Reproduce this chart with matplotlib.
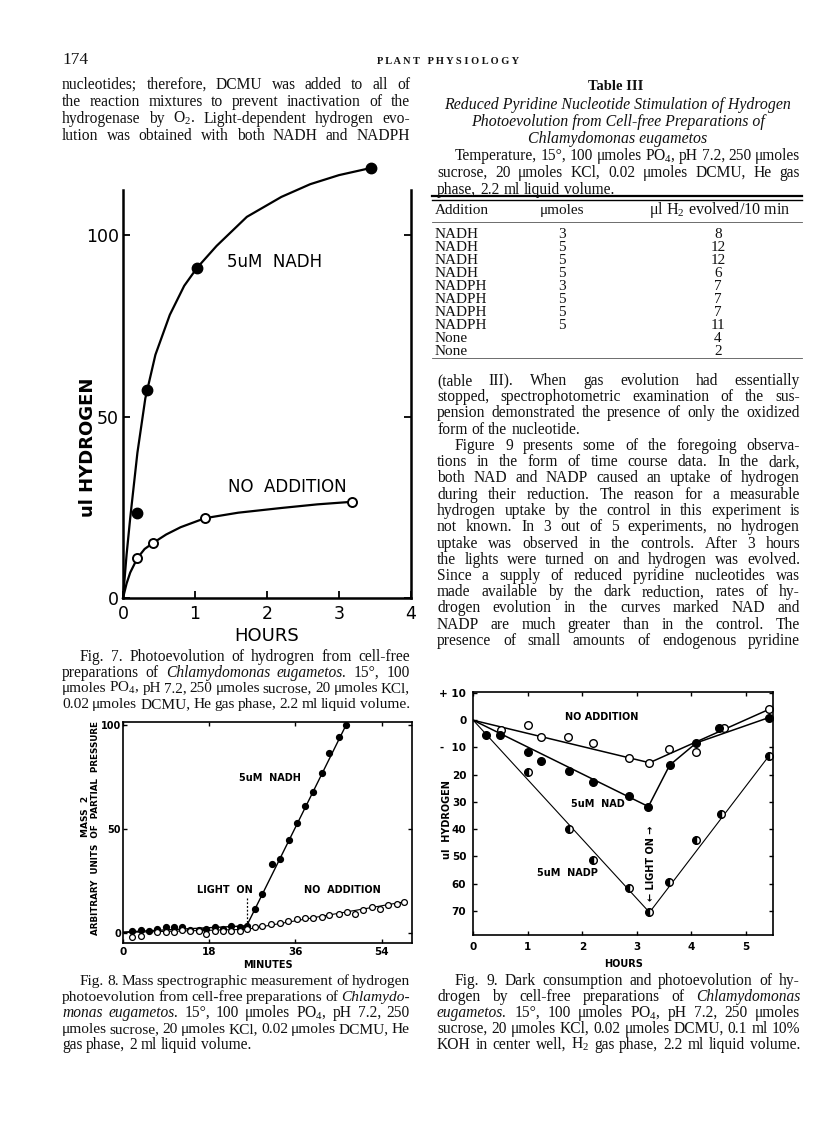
import matplotlib
matplotlib.use('Agg')
import matplotlib.pyplot as plt

plt.rcParams['mathtext.fontset'] = 'custom'
plt.rcParams['mathtext.rm'] = 'Liberation Serif'
plt.rcParams['mathtext.it'] = 'Liberation Serif:italic'

W, H = 816, 1121

# ---------------- data ----------------
# Fig 7
f7_nadh_t = [0.19, 0.33, 1.03, 3.45]
f7_nadh_v = [23.4, 57.3, 91.0, 118.5]
f7_none_t = [0.20, 0.42, 1.14, 3.18]
f7_none_v = [11.1, 15.2, 22.0, 26.5]
f7_nadh_curve_t = [0, 0.05, 0.1, 0.2, 0.31, 0.45, 0.65, 0.85, 1.03, 1.3, 1.72, 2.2, 2.6, 3.0, 3.45]
f7_nadh_curve_v = [0, 12, 22, 40, 55, 67, 78, 86, 91, 97, 105, 110.5, 114, 116.5, 118.5]
f7_none_curve_t = [0, 0.05, 0.1, 0.2, 0.3, 0.42, 0.6, 0.8, 1.14, 1.6, 2.2, 2.7, 3.18]
f7_none_curve_v = [0, 4, 7, 11, 13.5, 15.2, 17.5, 19.5, 22, 23.5, 24.8, 25.8, 26.5]

# Fig 8
f8_nadh_min = [1.9, 3.7, 5.4, 7.1, 8.9, 10.6, 12.3, 13.9, 15.8, 17.3, 19.1, 20.9, 22.6, 24.3, 25.8,
               27.5, 29.1, 31.1, 32.8, 34.7, 36.3, 38.0, 39.7, 41.5, 43.1, 45.0, 46.6]
f8_nadh_val = [1, 1.5, 1, 2, 3, 3, 3, 1.5, 1.5, 2, 3, 2, 3.5, 3, 3.5,
               11.4, 18.8, 33.4, 35.8, 44.5, 52.7, 61.0, 67.6, 77.1, 86.6, 94.2, 100]
f8_nadh_line_min = [0, 25.8, 46.6]
f8_nadh_line_val = [0.5, 3.5, 100]
f8_none_min = [1.9, 3.7, 7.1, 8.9, 10.6, 12.3, 13.9, 15.8, 17.3, 19.1, 20.9, 22.6, 24.3, 25.8,
               27.5, 29.1, 30.9, 32.8, 34.5, 36.4, 38.0, 39.7, 41.5, 43.1, 45.0, 46.7, 48.5,
               50.2, 52.0, 53.7, 55.4, 57.2, 58.7]
f8_none_val = [-2, -1.5, 0.5, 0.5, 0.5, 1.5, 1.2, 1.2, -0.3, 1, 1, 1, 1, 1.8,
               3, 3.5, 4.3, 5, 5.8, 6.6, 7.1, 7.4, 7.9, 8.7, 9.1, 9.9, 9.4,
               11, 12.3, 11.8, 13.4, 14.2, 15]
f8_none_line_min = [0, 25.8, 58.7]
f8_none_line_val = [0.3, 1.8, 15]

# Fig 9
f9_none_h = [0.51, 1.0, 1.25, 1.73, 2.19, 2.86, 3.23, 3.58, 4.09, 4.59, 5.42]
f9_none_v = [-3.7, -1.8, -6.1, -6.1, -8.5, -13.9, -15.6, -10.7, -11.6, -2.8, 4.0]
f9_none_line_h = [0, 3.23, 5.42]
f9_none_line_v = [0, -15.6, 4.0]
f9_nad_h = [0.24, 0.49, 1.0, 1.25, 1.76, 2.2, 2.86, 3.21, 3.6, 4.09, 4.51, 5.42]
f9_nad_v = [-5.5, -5.5, -11.6, -15.0, -18.5, -22.6, -27.8, -31.7, -16.5, -8.3, -2.8, 1.0]
f9_nad_line_h = [0, 3.21, 3.6, 4.09, 5.42]
f9_nad_line_v = [0, -31.7, -16.5, -8.3, 1.0]
f9_nadp_h = [1.01, 1.76, 2.19, 2.86, 3.23, 3.58, 4.09, 4.55, 5.42]
f9_nadp_v = [-19.1, -40.0, -51.5, -61.7, -70.6, -59.5, -44.0, -34.4, -13.1]
f9_nadp_line_h = [0, 3.23, 5.42]
f9_nadp_line_v = [0, -70.6, -13.1]

# Table III
tab_addition = ['NADH', 'NADH', 'NADH', 'NADH', 'NADPH', 'NADPH', 'NADPH', 'NADPH', 'None', 'None']
tab_umoles = ['3', '5', '5', '5', '3', '5', '5', '5', '', '']
tab_h2 = ['8', '12', '12', '6', '7', '7', '7', '11', '4', '2']

# ---------------- figure ----------------
fig = plt.figure(figsize=(W / 100, H / 100), dpi=100)
fig.patch.set_facecolor('white')
renderer = fig.canvas.get_renderer()


def fx(x):
    return x / W


def fy(y):
    return 1 - y / H


SERIF = ['Liberation Serif', 'DejaVu Serif']
BODY = 11.2
INK = '#111111'


def place_line(line, x0, x1, y, size=BODY, justify=True):
    toks = line.split()
    styles = []
    words = []
    for tok in toks:
        if tok.startswith('~'):
            styles.append('italic')
            words.append(tok[1:])
        else:
            styles.append('normal')
            words.append(tok)
    objs = [fig.text(0, fy(y), w, fontsize=size, family=SERIF, style=s,
                     va='baseline', ha='left', color=INK) for w, s in zip(words, styles)]

    def measure():
        return [t.get_window_extent(renderer).width for t in objs]

    widths = measure()
    sp = 0.25 * size * 100 / 72
    n = len(objs)
    avail = x1 - x0
    need = sum(widths) + (n - 1) * 0.85 * sp
    if justify and need > avail:
        scale = avail / need
        for t in objs:
            t.set_fontsize(size * scale)
        widths = measure()
        sp *= scale
    total = sum(widths)
    if justify and n > 1:
        gap = (avail - total) / (n - 1)
    else:
        gap = sp
    x = x0
    for t, w in zip(objs, widths):
        t.set_x(fx(x))
        x += w + gap


def block(lines, x0, x1, y0, dy, indents=None, last_justified=True, size=BODY):
    n = len(lines)
    for i, ln in enumerate(lines):
        ind = indents.get(i, 0) if indents else 0
        just = last_justified or i < n - 1
        place_line(ln, x0 + ind, x1, y0 + i * dy, size=size, justify=just)


# header
fig.text(fx(62), fy(64), '174', fontsize=12.5, family=SERIF, va='baseline', ha='left', color=INK)
fig.text(fx(448), fy(64), 'P L A N T   P H Y S I O L O G Y', fontsize=7.5, family=SERIF,
         va='baseline', ha='center', weight='bold', color=INK)

# left top paragraph
block(['nucleotides; therefore, DCMU was added to all of',
       'the reaction mixtures to prevent inactivation of the',
       'hydrogenase by O$_2$. Light-dependent hydrogen evo-',
       'lution was obtained with both NADH and NADPH'],
      62, 410, 89, 17)

# Table III title etc.
fig.text(fx(616), fy(90), 'Table III', fontsize=10.5, family=SERIF, weight='bold',
         ha='center', va='baseline', color=INK)
for i, s in enumerate(['Reduced Pyridine Nucleotide Stimulation of Hydrogen',
                       'Photoevolution from Cell-free Preparations of',
                       'Chlamydomonas eugametos']):
    fig.text(fx(618), fy(109 + i * 17), s, fontsize=11.4, family=SERIF, style='italic',
             ha='center', va='baseline', color=INK)
block(['Temperature, 15°, 100 μmoles PO$_4$, pH 7.2, 250 μmoles',
       'sucrose, 20 μmoles KCl, 0.02 μmoles DCMU, He gas',
       'phase, 2.2 ml liquid volume.'],
      437, 800, 160, 17, indents={0: 18}, last_justified=False)

# rules
fig.add_artist(plt.Line2D([fx(432), fx(802)], [fy(196), fy(196)], color='k', lw=1.6))
fig.add_artist(plt.Line2D([fx(432), fx(802)], [fy(200), fy(200)], color='k', lw=1.0))
fig.add_artist(plt.Line2D([fx(432), fx(802)], [fy(222), fy(222)], color='#555555', lw=0.6))
fig.add_artist(plt.Line2D([fx(432), fx(802)], [fy(358), fy(358)], color='#555555', lw=0.6))
TAB = 11
fig.text(fx(435), fy(214), 'Addition', fontsize=TAB, family=SERIF, va='baseline', color=INK)
fig.text(fx(562), fy(214), 'μmoles', fontsize=TAB, family=SERIF, va='baseline', ha='center', color=INK)
fig.text(fx(720), fy(214), 'μl H$_2$ evolved/10 min', fontsize=TAB + 0.6, family=SERIF,
         va='baseline', ha='center', color=INK)
for i in range(len(tab_addition)):
    yy = fy(238.5 + i * 12.9)
    fig.text(fx(435), yy, tab_addition[i], fontsize=TAB, family=SERIF, va='baseline', color=INK)
    fig.text(fx(562), yy, tab_umoles[i], fontsize=TAB, family=SERIF, va='baseline', ha='center', color=INK)
    fig.text(fx(718), yy, tab_h2[i], fontsize=TAB, family=SERIF, va='baseline', ha='center', color=INK)

# right paragraph
block(['(table III). When gas evolution had essentially',
       'stopped, spectrophotometric examination of the sus-',
       'pension demonstrated the presence of only the oxidized',
       'form of the nucleotide.'],
      437, 800, 385, 16.25, last_justified=False)
block(['Figure 9 presents some of the foregoing observa-',
       'tions in the form of time course data. In the dark,',
       'both NAD and NADP caused an uptake of hydrogen',
       'during their reduction. The reason for a measurable',
       'hydrogen uptake by the control in this experiment is',
       'not known. In 3 out of 5 experiments, no hydrogen',
       'uptake was observed in the controls. After 3 hours',
       'the lights were turned on and hydrogen was evolved.',
       'Since a supply of reduced pyridine nucleotides was',
       'made available by the dark reduction, rates of hy-',
       'drogen evolution in the curves marked NAD and',
       'NADP are much greater than in the control. The',
       'presence of small amounts of endogenous pyridine'],
      437, 800, 385 + 16.25 * 4, 16.25, indents={0: 18})

# captions
block(['Fig. 7. Photoevolution of hydrogren from cell-free',
       'preparations of ~Chlamydomonas ~eugametos. 15°, 100',
       'μmoles PO$_4$, pH 7.2, 250 μmoles sucrose, 20 μmoles KCl,',
       '0.02 μmoles DCMU, He gas phase, 2.2 ml liquid volume.'],
      62, 410, 661, 15.7, indents={0: 18})
block(['Fig. 8. Mass spectrographic measurement of hydrogen',
       'photoevolution from cell-free preparations of ~Chlamydo-',
       '~monas ~eugametos. 15°, 100 μmoles PO$_4$, pH 7.2, 250',
       'μmoles sucrose, 20 μmoles KCl, 0.02 μmoles DCMU, He',
       'gas phase, 2 ml liquid volume.'],
      62, 410, 985, 15.9, indents={0: 18}, last_justified=False)
block(['Fig. 9. Dark consumption and photoevolution of hy-',
       'drogen by cell-free preparations of ~Chlamydomonas',
       '~eugametos. 15°, 100 μmoles PO$_4$, pH 7.2, 250 μmoles',
       'sucrose, 20 μmoles KCl, 0.02 μmoles DCMU, 0.1 ml 10%',
       'KOH in center well, H$_2$ gas phase, 2.2 ml liquid volume.'],
      437, 800, 985, 15.9, indents={0: 18})

SANS = 'DejaVu Sans'

# ---------------- Fig 7 ----------------
ax7 = fig.add_axes([fx(123), fy(598), 288 / W, 408 / H])
ax7.set_xlim(0, 4)
ax7.set_ylim(0, 112.4)
ax7.spines['top'].set_visible(False)
for s in ['left', 'right', 'bottom']:
    ax7.spines[s].set_linewidth(1.8)
ax7.plot(f7_nadh_curve_t, f7_nadh_curve_v, color='k', lw=1.6, clip_on=False)
ax7.plot(f7_none_curve_t, f7_none_curve_v, color='k', lw=1.6, clip_on=False)
ax7.plot(f7_nadh_t, f7_nadh_v, 'o', color='k', ms=7.5, clip_on=False)
ax7.plot(f7_none_t, f7_none_v, 'o', mfc='white', mec='k', mew=1.4, ms=6.5, clip_on=False)
ax7.set_xticks([0, 1, 2, 3, 4])
ax7.set_yticks([0, 50, 100])
ax7.tick_params(direction='in', length=5, width=1.3, right=True, labelsize=12.5, pad=3)
ax7.tick_params(axis='x', pad=5)
for lab in ax7.get_xticklabels() + ax7.get_yticklabels():
    lab.set_family(SANS)
ax7.set_xlabel('HOURS', fontsize=13, family=SANS, labelpad=3)
fig.text(fx(88), fy(447), 'ul HYDROGEN', rotation=90, fontsize=13, weight='bold',
         family=SANS, ha='center', va='center')
ax7.text(1.44, 92.6, '5uM  NADH', fontsize=12, family=SANS, va='center')
ax7.text(1.46, 30.6, 'NO  ADDITION', fontsize=12, family=SANS, va='center')

# ---------------- Fig 8 ----------------
ax8 = fig.add_axes([fx(123.3), fy(943.3), 288.4 / W, 221.6 / H])
ax8.set_xlim(0, 60.3)
ax8.set_ylim(-4.9, 101.5)
for s in ax8.spines.values():
    s.set_linewidth(1.2)
ax8.plot(f8_nadh_line_min, f8_nadh_line_val, color='k', lw=1.0)
ax8.plot(f8_none_line_min, f8_none_line_val, color='k', lw=0.8)
ax8.plot(f8_nadh_min, f8_nadh_val, 'o', color='k', ms=4.2)
ax8.plot(f8_none_min, f8_none_val, 'o', mfc='white', mec='k', mew=0.9, ms=4.2)
ax8.plot([25.9, 25.9], [16.8, 3.8], color='k', lw=0.9, ls=(0, (1.5, 1.5)))
ax8.set_xticks([0, 18, 36, 54])
ax8.set_yticks([0, 50, 100])
ax8.tick_params(direction='in', length=3, width=1.0, right=True, top=True, labelsize=7, pad=1.5)
ax8.tick_params(axis='x', pad=3, labelsize=7.5)
for lab in ax8.get_xticklabels() + ax8.get_yticklabels():
    lab.set_family(SANS)
    lab.set_weight('bold')
ax8.set_xlabel('MINUTES', fontsize=7, weight='bold', family=SANS, labelpad=2)
fig.text(fx(86), fy(816), 'MASS  2', rotation=90, fontsize=6.5, weight='bold', family=SANS,
         ha='center', va='center')
fig.text(fx(96), fy(828), 'ARBITRARY  UNITS  OF  PARTIAL  PRESSURE', rotation=90, fontsize=6.3,
         weight='bold', family=SANS, ha='center', va='center')
ax8.text(24.2, 74.3, '5uM  NADH', fontsize=7, weight='bold', family=SANS, va='center')
ax8.text(15.4, 20.6, 'LIGHT  ON', fontsize=7, weight='bold', family=SANS, va='center')
ax8.text(37.8, 20.6, 'NO  ADDITION', fontsize=7, weight='bold', family=SANS, va='center')

# ---------------- Fig 9 ----------------
ax9 = fig.add_axes([fx(473.3), fy(935), 300 / W, 243.3 / H])
ax9.set_xlim(0, 5.5)
ax9.set_ylim(-78.9, 10.5)
for s in ax9.spines.values():
    s.set_linewidth(1.2)
ax9.plot(f9_none_line_h, f9_none_line_v, color='k', lw=1.1)
ax9.plot(f9_nad_line_h, f9_nad_line_v, color='k', lw=1.1)
ax9.plot(f9_nadp_line_h, f9_nadp_line_v, color='k', lw=0.8)
ax9.plot(f9_none_h, f9_none_v, 'o', mfc='white', mec='k', mew=1.0, ms=5.5)
ax9.plot(f9_nad_h, f9_nad_v, 'o', color='k', ms=5.5)
ax9.plot(f9_nadp_h, f9_nadp_v, 'o', mfc='k', mfcalt='white', fillstyle='left', mec='k',
         mew=1.0, ms=5.5)
ax9.set_xticks([0, 1, 2, 3, 4, 5])
ax9.set_yticks([10, 0, -10, -20, -30, -40, -50, -60, -70])
ax9.set_yticklabels(['+ 10', '0', '-  10', '20', '30', '40', '50', '60', '70'])
ax9.tick_params(direction='in', length=3, width=1.0, right=True, top=True, labelsize=7.5, pad=5)
for lab in ax9.get_xticklabels() + ax9.get_yticklabels():
    lab.set_family(SANS)
    lab.set_weight('bold')
ax9.set_xlabel('HOURS', fontsize=7, weight='bold', family=SANS, labelpad=5)
fig.text(fx(447), fy(820), 'ul  HYDROGEN', rotation=90, fontsize=7, weight='bold', family=SANS,
         ha='center', va='center')
ax9.text(1.68, 1.1, 'NO ADDITION', fontsize=7, weight='bold', family=SANS, va='center')
ax9.text(1.79, -30.8, '5uM  NAD', fontsize=7, weight='bold', family=SANS, va='center')
ax9.text(1.17, -56.0, '5uM  NADP', fontsize=7, weight='bold', family=SANS, va='center')
ax9.text(3.26, -52.4, '← LIGHT ON →', rotation=90, fontsize=7, weight='bold', family=SANS,
         ha='center', va='center')

fig.savefig('out.png', dpi=100, facecolor='white')
